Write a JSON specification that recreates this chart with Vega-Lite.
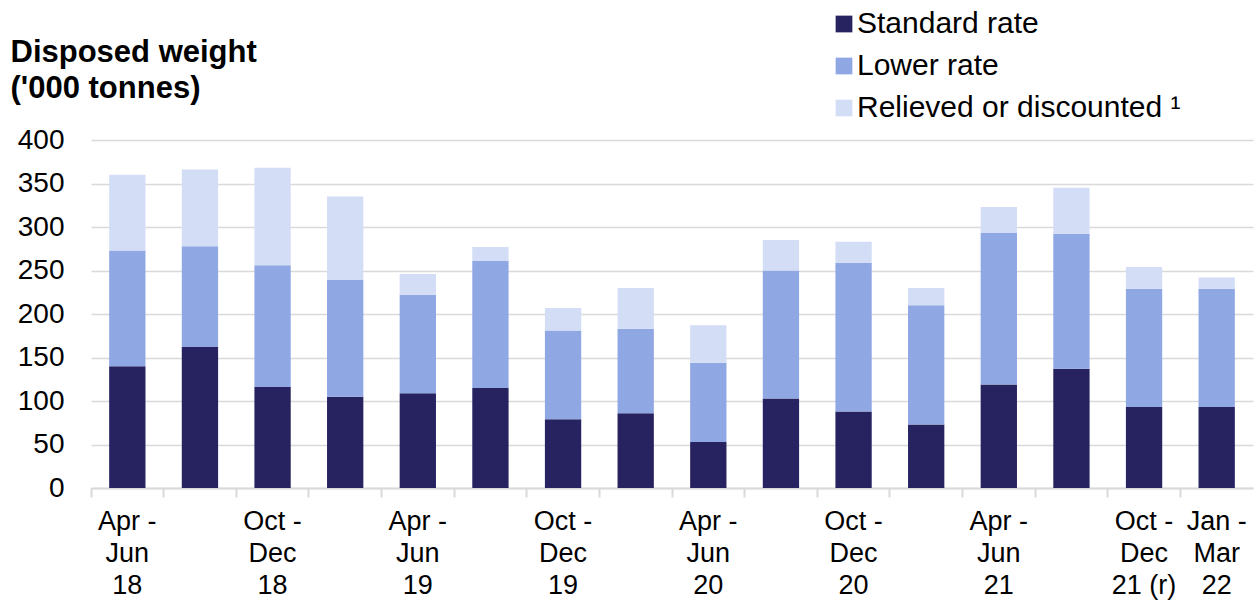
{
  "$schema": "https://vega.github.io/schema/vega-lite/v6.json",
  "autosize": {"type": "none"},
  "width": 1162,
  "height": 348,
  "padding": {"left": 91, "top": 140, "right": 4, "bottom": 113},
  "background": "white",
  "config": {
    "font": "Liberation Sans",
    "view": {"stroke": null}
  },
  "data": {
    "values": [
      {"q": "Apr -|Jun|18", "series": "Standard rate", "k": 1, "v": 140},
      {"q": "Apr -|Jun|18", "series": "Lower rate", "k": 2, "v": 133},
      {"q": "Apr -|Jun|18", "series": "Relieved or discounted ¹", "k": 3, "v": 87},
      {"q": "Jul - Sep 18", "series": "Standard rate", "k": 1, "v": 162},
      {"q": "Jul - Sep 18", "series": "Lower rate", "k": 2, "v": 116},
      {"q": "Jul - Sep 18", "series": "Relieved or discounted ¹", "k": 3, "v": 88},
      {"q": "Oct -|Dec|18", "series": "Standard rate", "k": 1, "v": 116},
      {"q": "Oct -|Dec|18", "series": "Lower rate", "k": 2, "v": 140},
      {"q": "Oct -|Dec|18", "series": "Relieved or discounted ¹", "k": 3, "v": 112},
      {"q": "Jan - Mar 19", "series": "Standard rate", "k": 1, "v": 105},
      {"q": "Jan - Mar 19", "series": "Lower rate", "k": 2, "v": 134},
      {"q": "Jan - Mar 19", "series": "Relieved or discounted ¹", "k": 3, "v": 96},
      {"q": "Apr -|Jun|19", "series": "Standard rate", "k": 1, "v": 109},
      {"q": "Apr -|Jun|19", "series": "Lower rate", "k": 2, "v": 113},
      {"q": "Apr -|Jun|19", "series": "Relieved or discounted ¹", "k": 3, "v": 24},
      {"q": "Jul - Sep 19", "series": "Standard rate", "k": 1, "v": 115},
      {"q": "Jul - Sep 19", "series": "Lower rate", "k": 2, "v": 146},
      {"q": "Jul - Sep 19", "series": "Relieved or discounted ¹", "k": 3, "v": 16},
      {"q": "Oct -|Dec|19", "series": "Standard rate", "k": 1, "v": 79},
      {"q": "Oct -|Dec|19", "series": "Lower rate", "k": 2, "v": 102},
      {"q": "Oct -|Dec|19", "series": "Relieved or discounted ¹", "k": 3, "v": 26},
      {"q": "Jan - Mar 20", "series": "Standard rate", "k": 1, "v": 86},
      {"q": "Jan - Mar 20", "series": "Lower rate", "k": 2, "v": 97},
      {"q": "Jan - Mar 20", "series": "Relieved or discounted ¹", "k": 3, "v": 47},
      {"q": "Apr -|Jun|20", "series": "Standard rate", "k": 1, "v": 53},
      {"q": "Apr -|Jun|20", "series": "Lower rate", "k": 2, "v": 91},
      {"q": "Apr -|Jun|20", "series": "Relieved or discounted ¹", "k": 3, "v": 43},
      {"q": "Jul - Sep 20", "series": "Standard rate", "k": 1, "v": 103},
      {"q": "Jul - Sep 20", "series": "Lower rate", "k": 2, "v": 147},
      {"q": "Jul - Sep 20", "series": "Relieved or discounted ¹", "k": 3, "v": 35},
      {"q": "Oct -|Dec|20", "series": "Standard rate", "k": 1, "v": 88},
      {"q": "Oct -|Dec|20", "series": "Lower rate", "k": 2, "v": 171},
      {"q": "Oct -|Dec|20", "series": "Relieved or discounted ¹", "k": 3, "v": 24},
      {"q": "Jan - Mar 21", "series": "Standard rate", "k": 1, "v": 73},
      {"q": "Jan - Mar 21", "series": "Lower rate", "k": 2, "v": 137},
      {"q": "Jan - Mar 21", "series": "Relieved or discounted ¹", "k": 3, "v": 20},
      {"q": "Apr -|Jun|21", "series": "Standard rate", "k": 1, "v": 119},
      {"q": "Apr -|Jun|21", "series": "Lower rate", "k": 2, "v": 174},
      {"q": "Apr -|Jun|21", "series": "Relieved or discounted ¹", "k": 3, "v": 30},
      {"q": "Jul - Sep 21", "series": "Standard rate", "k": 1, "v": 137},
      {"q": "Jul - Sep 21", "series": "Lower rate", "k": 2, "v": 155},
      {"q": "Jul - Sep 21", "series": "Relieved or discounted ¹", "k": 3, "v": 53},
      {"q": "Oct -|Dec|21 (r)", "series": "Standard rate", "k": 1, "v": 93},
      {"q": "Oct -|Dec|21 (r)", "series": "Lower rate", "k": 2, "v": 136},
      {"q": "Oct -|Dec|21 (r)", "series": "Relieved or discounted ¹", "k": 3, "v": 25},
      {"q": "Jan -|Mar|22", "series": "Standard rate", "k": 1, "v": 93},
      {"q": "Jan -|Mar|22", "series": "Lower rate", "k": 2, "v": 136},
      {"q": "Jan -|Mar|22", "series": "Relieved or discounted ¹", "k": 3, "v": 13}
    ]
  },
  "mark": {"type": "bar", "width": {"band": 0.5}},
  "encoding": {
    "x": {
      "field": "q",
      "type": "nominal",
      "sort": null,
      "scale": {"paddingInner": 0, "paddingOuter": 0},
      "axis": {
        "title": null,
        "labelAngle": 0,
        "labelExpr": "indexof(datum.value, '|') >= 0 ? split(datum.value, '|') : ''",
        "labelFont": "Liberation Sans",
        "labelFontSize": 27,
        "labelColor": "black",
        "labelLineHeight": 32,
        "labelBaseline": "top",
        "labelPadding": 11,
        "labelAlign": "center",
        "bandPosition": 0,
        "tickSize": 9,
        "tickColor": "#d9d9d9",
        "tickWidth": 2,
        "domainColor": "#d9d9d9",
        "domainWidth": 2,
        "grid": false
      }
    },
    "y": {
      "field": "v",
      "type": "quantitative",
      "stack": "zero",
      "scale": {"domain": [0, 400], "nice": false},
      "axis": {
        "values": [0, 50, 100, 150, 200, 250, 300, 350, 400],
        "title": ["Disposed weight", "('000 tonnes)"],
        "titleAngle": 0,
        "titleAlign": "left",
        "titleBaseline": "alphabetic",
        "titleX": -81,
        "titleY": -79,
        "titleFont": "Liberation Sans",
        "titleFontSize": 31,
        "titleFontWeight": "bold",
        "titleLineHeight": 36,
        "titleColor": "black",
        "labelFont": "Liberation Sans",
        "labelFontSize": 28,
        "labelColor": "black",
        "labelPadding": 27,
        "ticks": false,
        "domain": false,
        "grid": true,
        "gridColor": "#d9d9d9",
        "gridWidth": 1.5
      }
    },
    "color": {
      "field": "series",
      "type": "nominal",
      "scale": {
        "domain": ["Standard rate", "Lower rate", "Relieved or discounted ¹"],
        "range": ["#272361", "#8fa7e3", "#d3ddf5"]
      },
      "legend": {
        "title": null,
        "orient": "none",
        "legendX": 738,
        "legendY": -131,
        "symbolType": "square",
        "symbolSize": 280,
        "labelFont": "Liberation Sans",
        "labelFontSize": 30,
        "labelColor": "black",
        "labelOffset": -2,
        "rowPadding": 12,
        "labelLimit": 500
      }
    },
    "order": {"field": "k", "type": "quantitative", "sort": "ascending"}
  }
}
